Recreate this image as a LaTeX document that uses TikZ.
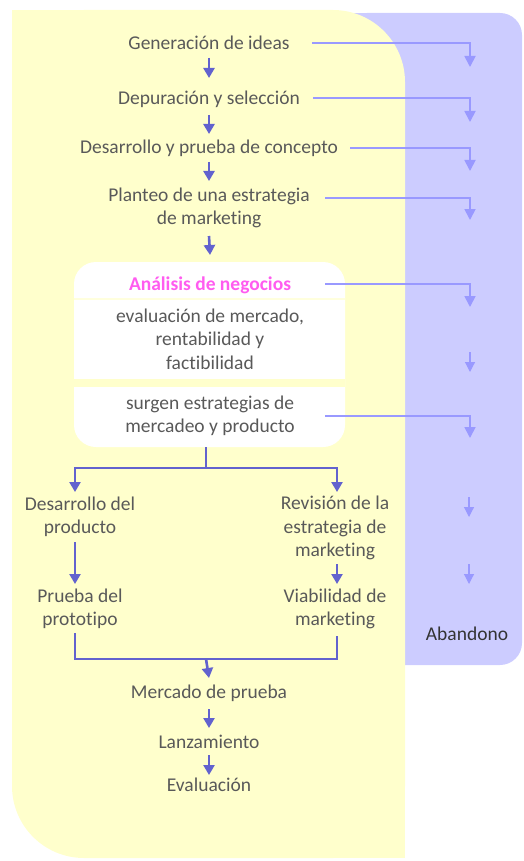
\documentclass[tikz,border=0pt]{standalone}
\usepackage{fontspec}
\setmainfont{Carlito}[Ligatures=NoCommon]
\usetikzlibrary{arrows.meta}
\definecolor{yel}{HTML}{FFFFCC}
\definecolor{yelline}{HTML}{FFFFDD}
\definecolor{pur}{HTML}{CCCCFF}
\definecolor{darr}{HTML}{6262CE}
\definecolor{larr}{HTML}{9999FF}
\definecolor{txtc}{HTML}{595959}
\definecolor{mag}{HTML}{FF5CF0}
\begin{document}
\begin{tikzpicture}[x=1pt,y=-1pt,
  txt/.style={text=txtc,font=\fontsize{19.5}{23.5}\selectfont,align=center,inner sep=0pt},
  darrow/.style={draw=darr,line width=2.6pt,-{Triangle[length=10pt,width=11pt]}},
  dline/.style={draw=darr,line width=2.6pt},
  larrow/.style={draw=larr,line width=1.8pt,-{Triangle[length=11pt,width=11pt]}},
  sarrow/.style={draw=larr,line width=1.2pt,-{Triangle[length=10pt,width=10pt]}}]
\useasboundingbox (0,0) rectangle (524,861);
% purple panel
\fill[pur,rounded corners=22pt] (345,13) rectangle (522,665);
\fill[pur] (345,13) rectangle (400,665);
% yellow panel
\fill[yel,rounded corners=72pt] (12,10) rectangle (405,858);
\fill[yel] (12,10) rectangle (120,120);
\fill[yel] (300,750) rectangle (405,858);
% white box
\node[fill=white,rounded corners=22pt,minimum width=271pt,minimum height=185pt,inner sep=0pt] (box) at (209.5,354.5) {};
\draw[yelline,line width=1.5pt] (74,299) -- (345,299);
\fill[yel] (74,379) rectangle (345,387);
% texts
\node[txt] (gen) at (209,43) {Generación de ideas};
\node[txt] (dep) at (209,99) {Depuración y selección};
\node[txt] (des) at (209,148) {Desarrollo y prueba de concepto};
\node[txt] (plan) at (209,208) {Planteo de una estrategia\\de marketing};
\node[txt,text=mag,font=\fontsize{19.5}{23.5}\selectfont\bfseries] (ana) at (210,285) {Análisis de negocios};
\node[txt] (eval) at (210,339) {evaluación de mercado,\\rentabilidad y\\factibilidad};
\node[txt] (surg) at (210,416) {surgen estrategias de\\mercadeo y producto};
\node[txt] (desp) at (80,517) {Desarrollo del\\producto};
\node[txt] (rev) at (335,528) {Revisión de la\\estrategia de\\marketing};
\node[txt] (prue) at (80,609) {Prueba del\\prototipo};
\node[txt] (viab) at (335,609) {Viabilidad de\\marketing};
\node[txt] (merc) at (209,693) {Mercado de prueba};
\node[txt] (lanz) at (209,742) {Lanzamiento};
\node[txt] (evalu) at (209,785) {Evaluación};
\node[txt,text=black!80] (aband) at (467,634) {Abandono};
% main flow
\draw[darrow] ([yshift=-15pt]gen.center) -- ([yshift=21pt]dep.center);
\draw[darrow] ([yshift=-16pt]dep.center) -- ([yshift=14pt]des.center);
\draw[darrow] ([yshift=-14pt]des.center) -- ([yshift=27pt]plan.center);
\draw[darrow] ([yshift=-28pt]plan.center) -- ([yshift=30pt]ana.center);
\coordinate (split) at (206,468);
\draw[dline] (box.south -| split) -- (split);
\draw[darrow] (split) -| ([xshift=-5pt,yshift=25pt]desp.center);
\draw[darrow] (split) -| ([xshift=2pt,yshift=36pt]rev.center);
\draw[darrow] ([xshift=-5pt,yshift=-25pt]desp.center) -- ([xshift=-5pt,yshift=25pt]prue.center);
\draw[darrow] ([xshift=2pt,yshift=-36pt]rev.center) -- ([xshift=2pt,yshift=25pt]viab.center);
\coordinate (join) at (206,659);
\draw[dline] ([xshift=-5pt,yshift=-24pt]prue.center) |- (join) -| ([xshift=2pt,yshift=-27pt]viab.center);
\draw[darrow] (join) -- ([yshift=15pt]merc.center);
\draw[darrow] ([yshift=-16pt]merc.center) -- ([yshift=14pt]lanz.center);
\draw[darrow] ([yshift=-13pt]lanz.center) -- ([yshift=10pt]evalu.center);
% abandon arrows
\coordinate (t1) at (470,67);
\coordinate (t2) at (470,122);
\coordinate (t3) at (470,171);
\coordinate (t4) at (470,220);
\coordinate (t5) at (470,307);
\coordinate (t7) at (470,438);
\draw[larrow] ([xshift=103pt]gen.center) -| (t1);
\draw[larrow] ([xshift=104pt,yshift=1pt]dep.center) -| (t2);
\draw[larrow] ([xshift=141pt]des.center) -| (t3);
\draw[larrow] ([xshift=116pt,yshift=10pt]plan.center) -| (t4);
\draw[larrow] ([xshift=115pt,yshift=1pt]ana.center) -| (t5);
\draw[larrow] ([xshift=115pt]surg.center) -| (t7);
\coordinate (s6) at (470,352); \coordinate (e6) at (470,372);
\coordinate (s8) at (469,497); \coordinate (e8) at (469,517);
\coordinate (s9) at (469,564); \coordinate (e9) at (469,584);
\draw[sarrow] (s6) -- (e6);
\draw[sarrow] (s8) -- (e8);
\draw[sarrow] (s9) -- (e9);
\end{tikzpicture}
\end{document}
